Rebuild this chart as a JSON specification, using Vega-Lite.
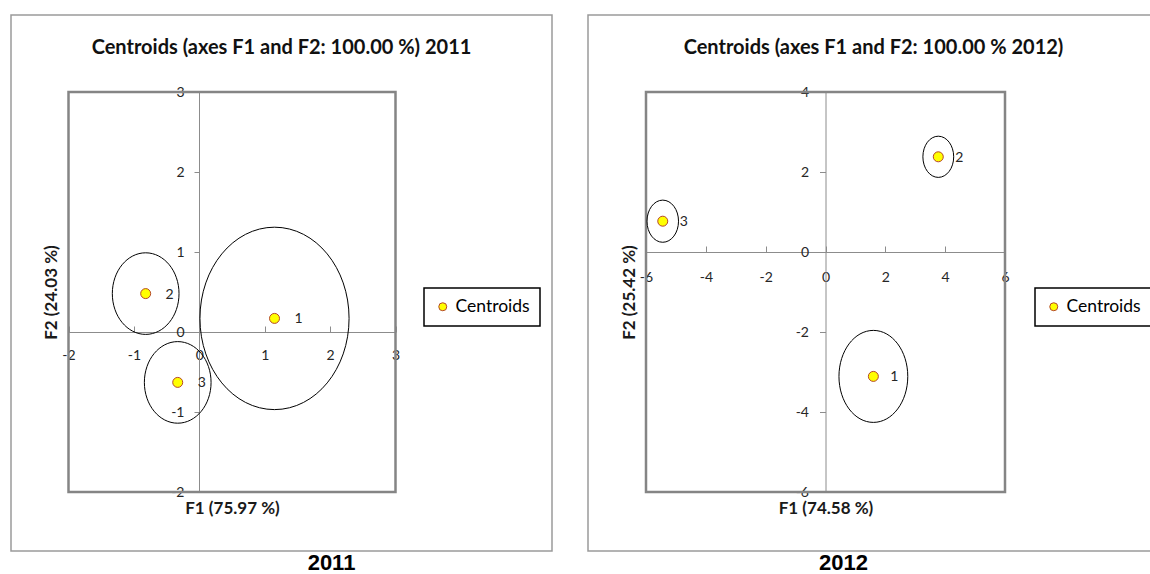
{
  "$schema": "https://vega.github.io/schema/vega-lite/v6.json",
  "background": "white",
  "padding": {"left": 10, "top": 14, "right": 0, "bottom": 0},
  "spacing": 34,
  "datasets": {
    "c2011": [
      {"cluster": "1", "F1": 1.15, "F2": 0.17, "r": 1.14},
      {"cluster": "2", "F1": -0.82, "F2": 0.48, "r": 0.51},
      {"cluster": "3", "F1": -0.33, "F2": -0.63, "r": 0.51}
    ],
    "c2012": [
      {"cluster": "1", "F1": 1.6, "F2": -3.11, "r": 1.15},
      {"cluster": "2", "F1": 3.77, "F2": 2.38, "r": 0.515},
      {"cluster": "3", "F1": -5.44, "F2": 0.77, "r": 0.527}
    ]
  },
  "hconcat": [
    {
      "title": {"text": "2011", "orient": "bottom", "anchor": "middle", "font": "Liberation Sans", "fontSize": 22, "fontWeight": "bold", "color": "#000", "dx": 50, "offset": 1},
      "vconcat": [
        {
          "title": {"text": "Centroids (axes F1 and F2: 100.00 %) 2011", "anchor": "middle", "frame": "group", "offset": -34, "dy": 19, "baseline": "middle"},
          "width": 541,
          "height": 536,
          "data": {"name": "c2011"},
          "layer": [
            {
              "data": {"values": [{"frame": "plot"}]},
              "mark": {"type": "rect", "filled": false, "color": "#858585", "strokeWidth": 2.5},
              "encoding": {
                "x": {"datum": -2, "type": "quantitative"},
                "x2": {"datum": 3},
                "y": {"datum": -2, "type": "quantitative"},
                "y2": {"datum": 3}
              }
            },
            {
              "mark": {"type": "point", "filled": false, "color": "#000", "strokeWidth": 1, "opacity": 1,
                       "shape": "M-0.8175,0A0.8175,1,0,1,1,0.8175,0A0.8175,1,0,1,1,-0.8175,0Z"},
              "encoding": {
                "x": {"field": "F1", "type": "quantitative",
                      "scale": {"domain": [-2, 3], "range": [57.5, 384.5], "nice": false, "zero": false},
                      "axis": {"orient": "bottom", "offset": -219, "values": [-2, -1, 0, 1, 2, 3], "tickSize": -6, "labelPadding": 22,
                               "labelExpr": "datum.value + ''",
                               "title": "F1 (75.97 %)", "titleY": 176, "titleBaseline": "middle"}},
                "y": {"field": "F2", "type": "quantitative",
                      "scale": {"domain": [-2, 3], "range": [477, 77], "nice": false, "zero": false},
                      "axis": {"orient": "left", "offset": -188, "values": [-2, -1, 0, 1, 2, 3], "tickSize": 5, "labelPadding": 10,
                               "labelExpr": "datum.value + ''",
                               "title": "F2 (24.03 %)", "titleX": -148, "titleBaseline": "middle"}},
                "size": {"field": "r", "type": "quantitative",
                         "scale": {"type": "pow", "exponent": 2, "domain": [0, 1], "range": [0, 25600]}, "legend": null}
              }
            },
            {
              "mark": {"type": "point", "filled": true, "size": 100, "stroke": "#B5472B", "strokeWidth": 1, "opacity": 1},
              "encoding": {
                "x": {"field": "F1", "type": "quantitative"},
                "y": {"field": "F2", "type": "quantitative"},
                "color": {"datum": "Centroids", "type": "nominal",
                          "scale": {"range": ["#FFFF00"]},
                          "legend": {"title": null, "orient": "none", "legendX": 413, "legendY": 273}}
              }
            },
            {
              "mark": {"type": "text", "dx": 24, "dy": 1, "font": "Lato", "fontSize": 14, "color": "#262626"},
              "encoding": {
                "x": {"field": "F1", "type": "quantitative"},
                "y": {"field": "F2", "type": "quantitative"},
                "text": {"field": "cluster"}
              }
            }
          ]
        }
      ]
    },
    {
      "title": {"text": "2012", "orient": "bottom", "anchor": "middle", "font": "Liberation Sans", "fontSize": 22, "fontWeight": "bold", "color": "#000", "dx": -26, "offset": 1},
      "vconcat": [
        {
          "title": {"text": "Centroids (axes F1 and F2: 100.00 % 2012)", "anchor": "middle", "frame": "group", "offset": -34, "dy": 19, "baseline": "middle", "dx": 4},
          "width": 563,
          "height": 536,
          "data": {"name": "c2012"},
          "layer": [
            {
              "data": {"values": [{"frame": "plot"}]},
              "mark": {"type": "rect", "filled": false, "color": "#858585", "strokeWidth": 2.5},
              "encoding": {
                "x": {"datum": -6, "type": "quantitative"},
                "x2": {"datum": 6},
                "y": {"datum": -6, "type": "quantitative"},
                "y2": {"datum": 4}
              }
            },
            {
              "mark": {"type": "point", "filled": false, "color": "#000", "strokeWidth": 1, "opacity": 1,
                       "shape": "M-0.748,0A0.748,1,0,1,1,0.748,0A0.748,1,0,1,1,-0.748,0Z"},
              "encoding": {
                "x": {"field": "F1", "type": "quantitative",
                      "scale": {"domain": [-6, 6], "range": [58, 417], "nice": false, "zero": false},
                      "axis": {"orient": "bottom", "offset": -299, "values": [-6, -4, -2, 0, 2, 4, 6], "tickSize": -6, "labelPadding": 24,
                               "labelExpr": "datum.value + ''",
                               "title": "F1 (74.58 %)", "titleY": 256, "titleBaseline": "middle"}},
                "y": {"field": "F2", "type": "quantitative",
                      "scale": {"domain": [-6, 4], "range": [477, 77], "nice": false, "zero": false},
                      "axis": {"orient": "left", "offset": -237.5, "values": [-6, -4, -2, 0, 2, 4], "tickSize": 6, "labelPadding": 11,
                               "labelExpr": "datum.value + ''",
                               "title": "F2 (25.42 %)", "titleX": -196, "titleBaseline": "middle"}},
                "size": {"field": "r", "type": "quantitative",
                         "scale": {"type": "pow", "exponent": 2, "domain": [0, 1], "range": [0, 6400]}, "legend": null}
              }
            },
            {
              "mark": {"type": "point", "filled": true, "size": 100, "stroke": "#B5472B", "strokeWidth": 1, "opacity": 1},
              "encoding": {
                "x": {"field": "F1", "type": "quantitative"},
                "y": {"field": "F2", "type": "quantitative"},
                "color": {"datum": "Centroids", "type": "nominal",
                          "scale": {"range": ["#FFFF00"]},
                          "legend": {"title": null, "orient": "none", "legendX": 447, "legendY": 273}}
              }
            },
            {
              "mark": {"type": "text", "dx": 21, "dy": 1, "font": "Lato", "fontSize": 14, "color": "#262626"},
              "encoding": {
                "x": {"field": "F1", "type": "quantitative"},
                "y": {"field": "F2", "type": "quantitative"},
                "text": {"field": "cluster"}
              }
            }
          ]
        }
      ]
    }
  ],
  "resolve": {"scale": {"color": "independent", "size": "independent"}},
  "config": {
    "view": {"stroke": "#9a9a9a", "strokeWidth": 1.5},
    "font": "Lato",
    "title": {"font": "Lato", "fontSize": 20, "fontWeight": "bold", "color": "#111"},
    "axis": {
      "grid": false,
      "labelFont": "Lato", "labelFontSize": 14, "labelColor": "#262626",
      "labelOverlap": false, "labelFlush": false, "labelBound": false,
      "titleFont": "Lato", "titleFontSize": 17, "titleFontWeight": "bold", "titleColor": "#1a1a1a",
      "domainColor": "#8c8c8c", "tickColor": "#8c8c8c"
    },
    "legend": {
      "strokeColor": "#000", "strokeWidth": 1.5, "padding": 10,
      "labelFont": "Lato", "labelFontSize": 17.5, "labelColor": "#000",
      "symbolSize": 64, "symbolStrokeWidth": 1
    }
  }
}
